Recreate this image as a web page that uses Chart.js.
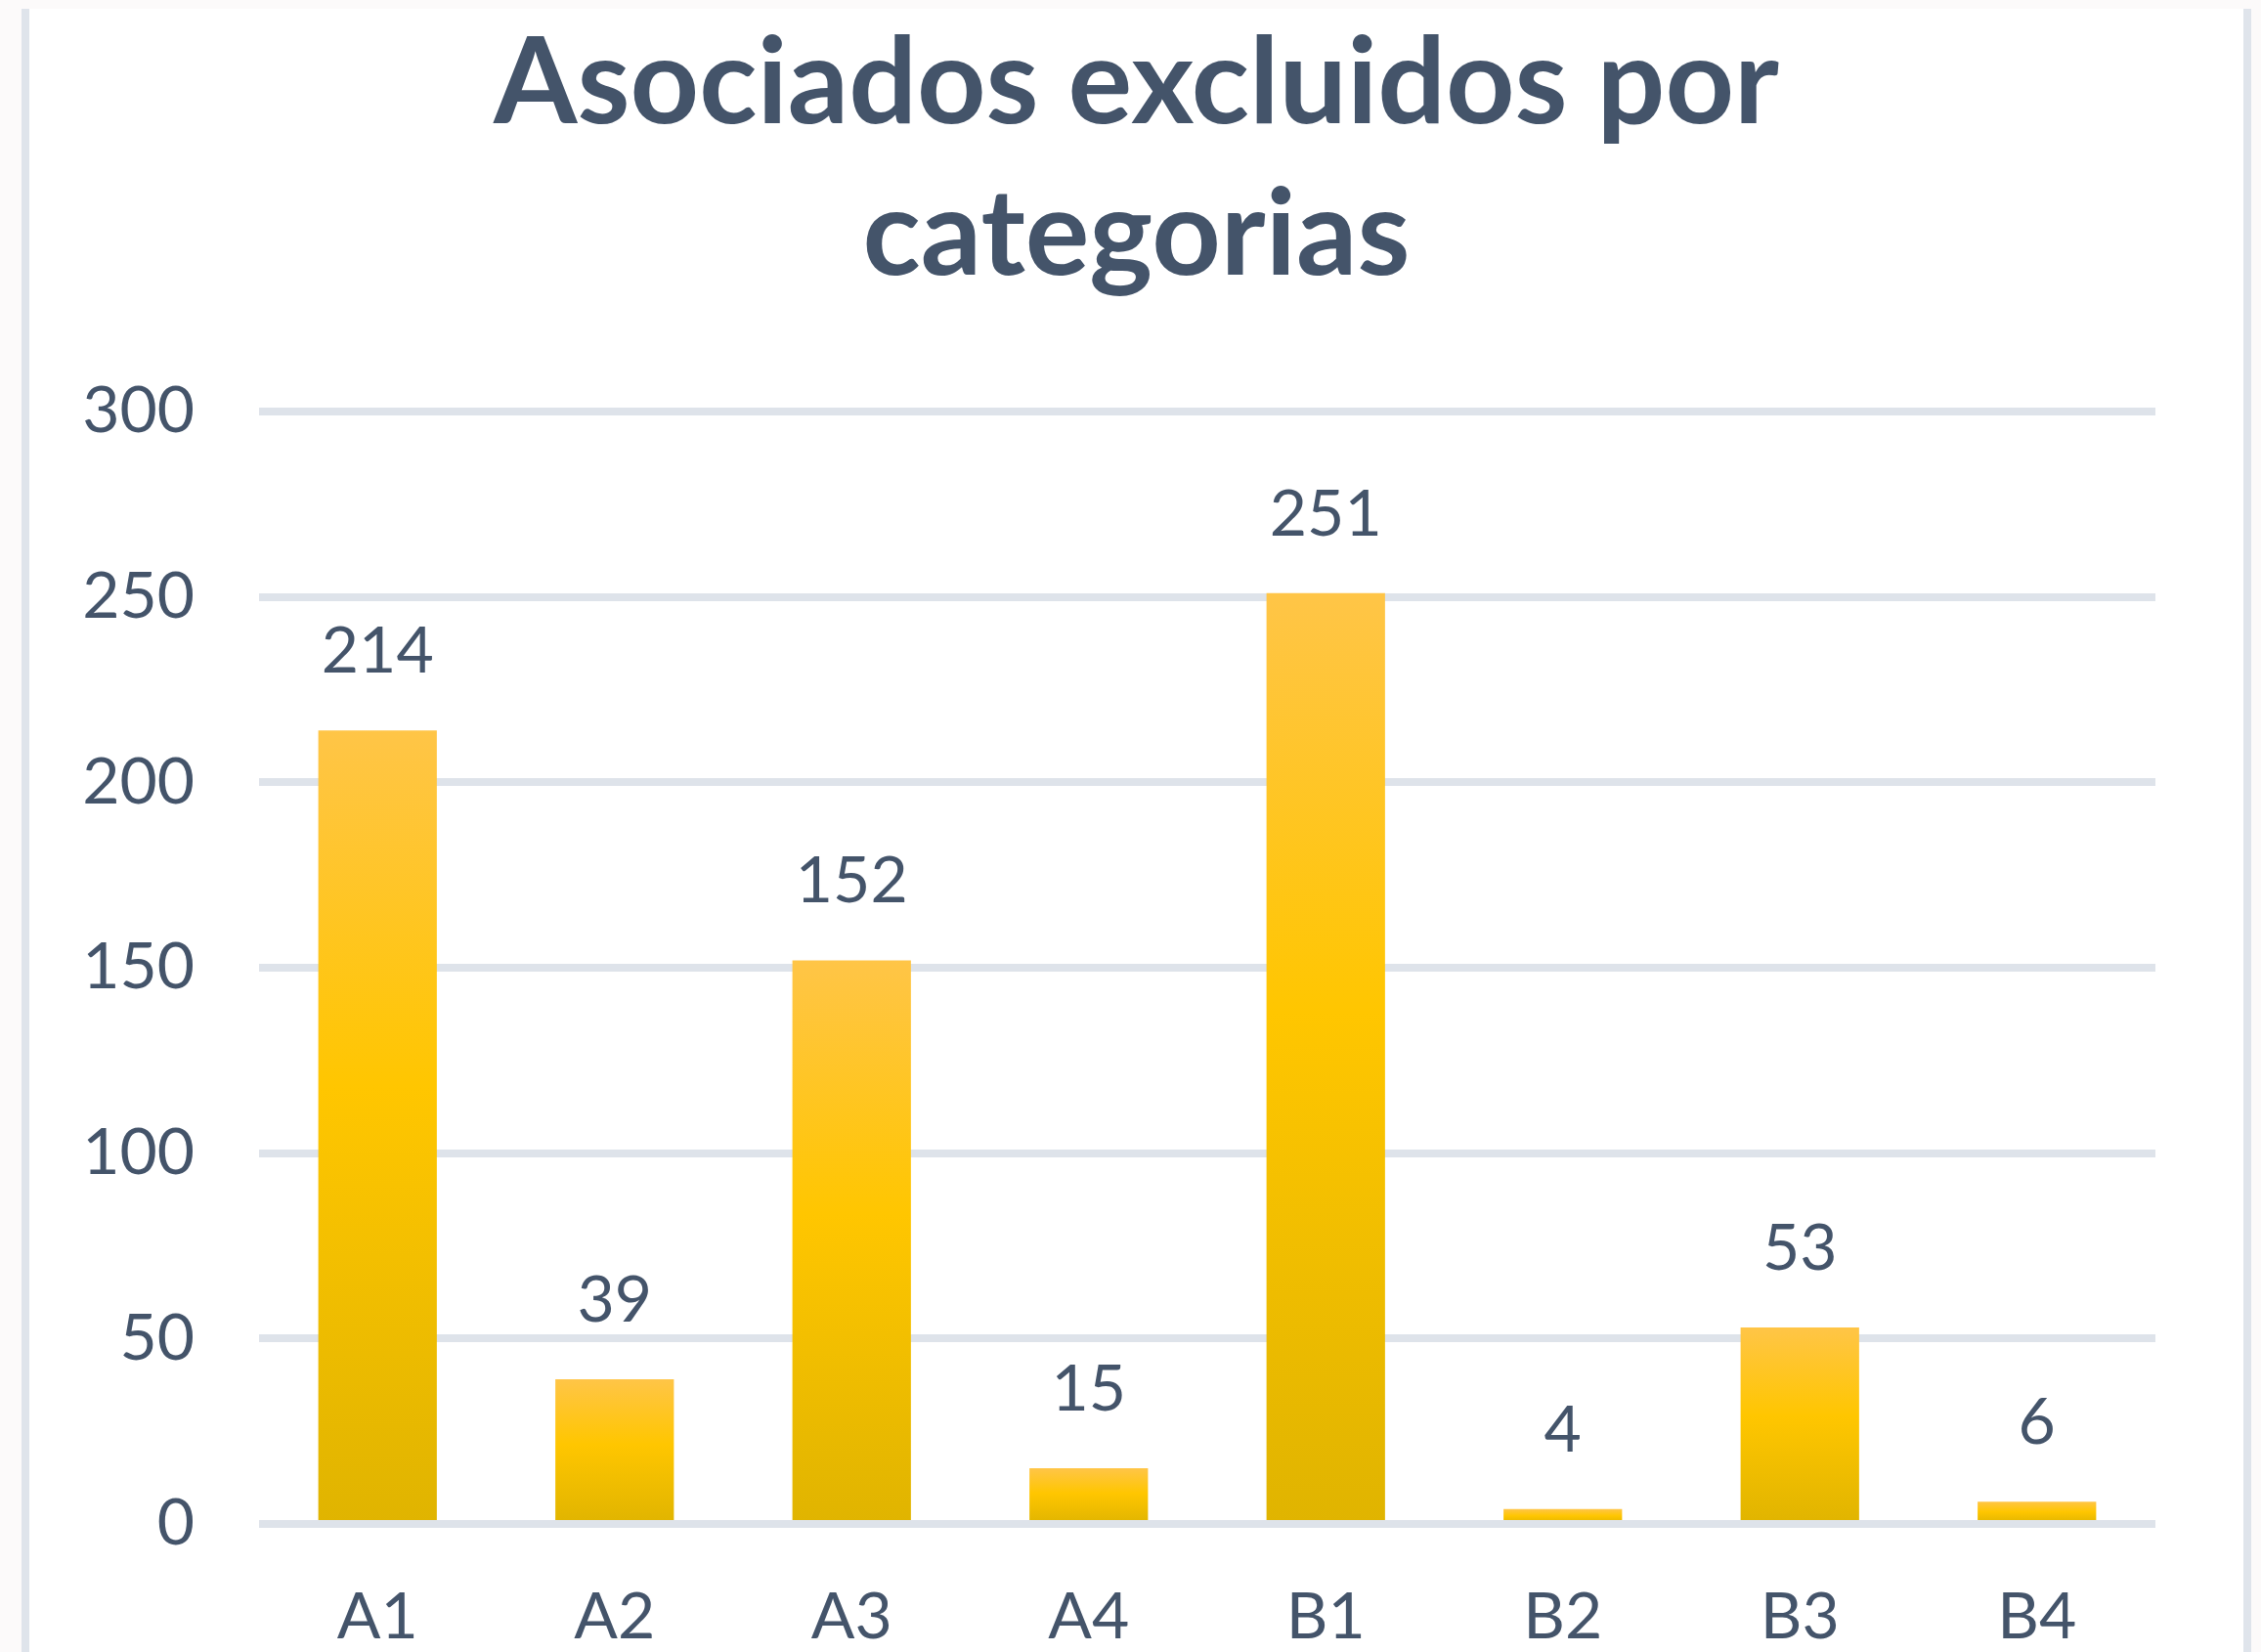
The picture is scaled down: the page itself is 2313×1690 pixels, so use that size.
<!DOCTYPE html>
<html>
<head>
<meta charset="utf-8">
<script src="https://cdn.jsdelivr.net/npm/chart.js@4"></script>
<style>
  html, body { margin: 0; padding: 0; background: #FCFAFA; width: 2313px; height: 1690px; overflow: hidden; }
  #frame { position: absolute; left: 22px; top: 9px; width: 2281px; height: 1681px; box-sizing: border-box;
           border-left: 8px solid #DFE4EB; border-right: 8px solid #DFE4EB; background: #FFFFFF; }
  #c { display: block; }
</style>
</head>
<body>
<div id="frame"><canvas id="c" width="2265" height="1681"></canvas></div>
<script>
const titleLines = ['Asociados excluidos por', 'categorias'];
const categories = ['A1', 'A2', 'A3', 'A4', 'B1', 'B2', 'B3', 'B4'];
const excluidos = [214, 39, 152, 15, 251, 4, 53, 6];
const yTicks = [0, 50, 100, 150, 200, 250, 300];

const TEXT = '#44546A';
const FONT = 'Lato, Carlito, "Open Sans", sans-serif';

function barGradient(context) {
  const chart = context.chart;
  const area = chart.chartArea;
  if (!area || context.type !== 'data') return '#FFC600';
  const ys = chart.scales.y;
  const top = ys.getPixelForValue(context.raw);
  const base = ys.getPixelForValue(0);
  if (!isFinite(top) || !isFinite(base) || Math.abs(base - top) < 1) return '#FFC600';
  const g = chart.ctx.createLinearGradient(0, top, 0, base);
  g.addColorStop(0, '#FFC547');
  g.addColorStop(0.45, '#FFC600');
  g.addColorStop(1, '#E0B400');
  return g;
}

const valueLabels = {
  id: 'valueLabels',
  afterDatasetsDraw(chart) {
    const ctx = chart.ctx;
    const meta = chart.getDatasetMeta(0);
    ctx.save();
    ctx.font = '66px ' + FONT;
    ctx.fillStyle = TEXT;
    ctx.textAlign = 'center';
    ctx.textBaseline = 'alphabetic';
    meta.data.forEach((bar, i) => {
      ctx.fillText(String(excluidos[i]), bar.x, bar.y - 59);
    });
    ctx.restore();
  }
};

new Chart(document.getElementById('c'), {
  type: 'bar',
  data: {
    labels: categories,
    datasets: [{
      label: 'Asociados excluidos',
      data: excluidos,
      backgroundColor: barGradient,
      borderWidth: 0,
      barPercentage: 0.5,
      categoryPercentage: 1.0
    }]
  },
  options: {
    responsive: false,
    devicePixelRatio: 1,
    animation: false,
    layout: { padding: 0 },
    plugins: {
      legend: { display: false },
      tooltip: { enabled: false },
      title: {
        display: true,
        text: titleLines,
        color: TEXT,
        font: { family: FONT, size: 123, weight: 'bold', lineHeight: 1.26 },
        padding: { top: 0, bottom: 102 }
      }
    },
    scales: {
      x: {
        grid: { display: false, drawTicks: false },
        border: { display: false },
        ticks: { color: TEXT, font: { family: FONT, size: 66 }, padding: 56 },
        afterFit(scale) { scale.height = 131; }
      },
      y: {
        min: 0,
        max: 300,
        afterBuildTicks(scale) { scale.ticks = yTicks.map(v => ({ value: v })); },
        grid: { color: '#DEE3EA', lineWidth: 8, drawTicks: false },
        border: { display: false },
        ticks: { color: TEXT, font: { family: FONT, size: 66 }, padding: 66 },
        afterFit(scale) { scale.width = 235; }
      },
      spacer: {
        type: 'linear',
        position: 'right',
        display: true,
        grid: { display: false, drawTicks: false },
        border: { display: false },
        ticks: { display: false },
        afterFit(scale) { scale.width = 90; }
      }
    }
  },
  plugins: [valueLabels]
});
</script>
</body>
</html>
